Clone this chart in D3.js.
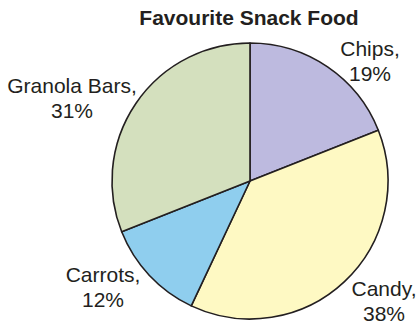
<!DOCTYPE html>
<html>
<head>
<meta charset="utf-8">
<script src="https://cdn.jsdelivr.net/npm/d3@7"></script>
<style>
html,body{margin:0;padding:0;background:#fff;}
svg{display:block;}
</style>
</head>
<body>
<svg id="chart" width="417" height="326"></svg>
<script>
const categories = ["Chips", "Candy", "Carrots", "Granola Bars"];
const values = [19, 38, 12, 31];
const colors = ["#bdbadf", "#fef9c3", "#8fceee", "#d4e0be"];
const title = "Favourite Snack Food";

// label placement (layout, not data)
const labelPos = {
  "Chips": [370, 56],
  "Candy": [384, 296],
  "Carrots": [103, 282],
  "Granola Bars": [72, 93]
};

const svg = d3.select("#chart");
const cx = 250, cy = 181, R = 138;

const data = categories.map((c, i) => ({cat: c, value: values[i], color: colors[i]}));
const pie = d3.pie().value(d => d.value).sort(null);
const arc = d3.arc().innerRadius(0).outerRadius(R);

const g = svg.append("g").attr("transform", `translate(${cx},${cy})`);
g.selectAll("path")
  .data(pie(data))
  .join("path")
  .attr("d", arc)
  .attr("fill", d => d.data.color)
  .attr("stroke", "#231f20")
  .attr("stroke-width", 1.6)
  .attr("stroke-linejoin", "round");

svg.append("text")
  .attr("x", 249).attr("y", 25)
  .attr("text-anchor", "middle")
  .attr("font-family", "'Liberation Sans', Arial, Helvetica, sans-serif")
  .attr("font-weight", "bold")
  .attr("font-size", 21)
  .attr("fill", "#231f20")
  .text(title);

const lbl = svg.append("g")
  .attr("font-family", "'Liberation Sans', Arial, Helvetica, sans-serif")
  .attr("font-size", 21)
  .attr("fill", "#231f20")
  .attr("text-anchor", "middle");

data.forEach(d => {
  const [x, y] = labelPos[d.cat];
  const t = lbl.append("text").attr("x", x).attr("y", y);
  t.append("tspan").attr("x", x).attr("dy", 0).text(d.cat + ",");
  t.append("tspan").attr("x", x).attr("dy", 24.5).text(d.value + "%");
});
</script>
</body>
</html>
